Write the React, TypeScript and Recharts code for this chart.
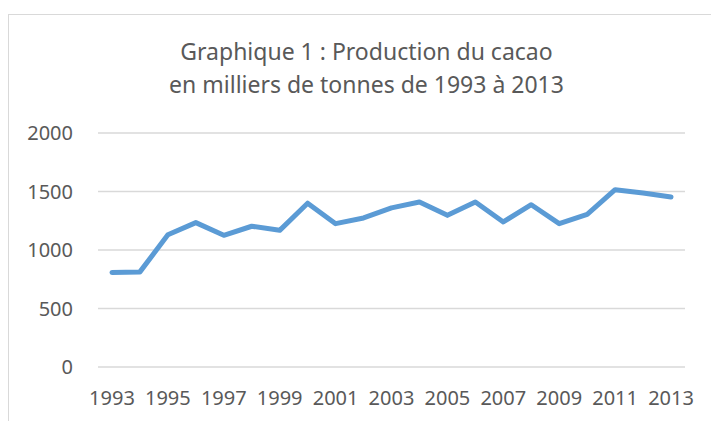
import { CartesianGrid, Line, LineChart, XAxis, YAxis } from "recharts"

const years = [
  1993, 1994, 1995, 1996, 1997, 1998, 1999, 2000, 2001, 2002, 2003,
  2004, 2005, 2006, 2007, 2008, 2009, 2010, 2011, 2012, 2013,
]
const production = [
  808, 813, 1130, 1234, 1126, 1203, 1168, 1400, 1225, 1274, 1360,
  1410, 1296, 1410, 1240, 1387, 1225, 1305, 1515, 1487, 1453,
]
const yearTicks = [1993, 1995, 1997, 1999, 2001, 2003, 2005, 2007, 2009, 2011, 2013]
const valueTicks = [0, 500, 1000, 1500, 2000]
const titleLines = ["Graphique 1 : Production du cacao", "en milliers de tonnes de 1993 à 2013"]

const data = years.map((year, i) => ({ year, value: production[i] }))

const font = "'Noto Sans', 'Open Sans', sans-serif"
const textColor = "#595959"

export default function App() {
  return (
    <div
      style={{
        position: "absolute",
        left: 0,
        top: 0,
        width: 711,
        height: 421,
        overflow: "hidden",
        background: "#fff",
        fontFamily: font,
      }}
    >
      <div
        style={{
          position: "absolute",
          left: 8,
          top: 14,
          width: 720,
          height: 420,
          borderLeft: "1px solid #D9D9D9",
          borderTop: "1px solid #D9D9D9",
        }}
      />
      <div
        style={{
          position: "absolute",
          left: 0,
          width: 733,
          top: 34.6,
          textAlign: "center",
          fontSize: 23,
          lineHeight: "33px",
          color: textColor,
        }}
      >
        {titleLines.map((t) => (
          <div key={t}>{t}</div>
        ))}
      </div>
      <div style={{ position: "absolute", left: 0, top: 0 }}>
        <LineChart
          width={711}
          height={421}
          data={data}
          margin={{ top: 133, right: 26, left: 0, bottom: 0 }}
        >
          <CartesianGrid vertical={false} stroke="#D9D9D9" strokeWidth={1.5} />
          <XAxis
            dataKey="year"
            type="number"
            domain={[1992.5, 2013.5]}
            ticks={yearTicks}
            height={54}
            axisLine={false}
            tickLine={false}
            tickSize={0}
            tickMargin={24}
            tick={{ fill: textColor, fontSize: 20, fontFamily: font }}
          />
          <YAxis
            domain={[0, 2000]}
            ticks={valueTicks}
            width={98}
            axisLine={false}
            tickLine={false}
            tickSize={0}
            tickMargin={25}
            tick={{ fill: textColor, fontSize: 20, fontFamily: font }}
          />
          <Line
            type="linear"
            dataKey="value"
            stroke="#5B9BD5"
            strokeWidth={5}
            strokeLinecap="round"
            strokeLinejoin="round"
            dot={false}
            isAnimationActive={false}
          />
        </LineChart>
      </div>
    </div>
  )
}
